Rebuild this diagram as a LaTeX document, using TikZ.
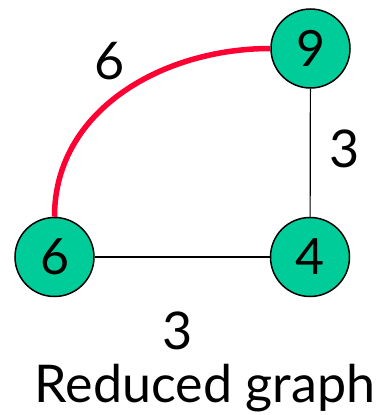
\documentclass[tikz,border=0pt]{standalone}
\usepackage{fontspec}
\setmainfont{Lato}
\definecolor{nodegreen}{HTML}{00CC99}
\definecolor{pathred}{HTML}{FF0033}
\begin{document}
\begin{tikzpicture}[x=1pt,y=-1pt,
  vert/.style={circle,draw=black,line width=1.5pt,fill=nodegreen,minimum size=79pt,inner sep=0pt,font=\fontsize{50}{50}\selectfont},
  edgelbl/.style={font=\fontsize{52}{52}\selectfont,inner sep=0pt},
  plain/.style={line width=1.2pt,draw=black},
  chosen/.style={line width=5.5pt,draw=pathred}]
\useasboundingbox (0,0) rectangle (385,415);
\node[vert] (n9) at (310.5,48.5) {9};
\node[vert] (n6) at (54.5,257) {6};
\node[vert] (n4) at (310,257) {4};
\draw[plain] (n9) -- (n4);
\draw[plain] (n6) -- (n4);
\draw[chosen] (n6.north) to[out=90,in=180] (n9.west);
\node[edgelbl] (l6) at (110,61) {6};
\node[edgelbl] (l3a) at (345,149) {3};
\node[edgelbl] (l3b) at (178,331) {3};
\node[font=\fontsize{52}{52}\selectfont,inner sep=0pt,anchor=base] (cap) at (205,402) {Reduced graph};
\end{tikzpicture}
\end{document}
